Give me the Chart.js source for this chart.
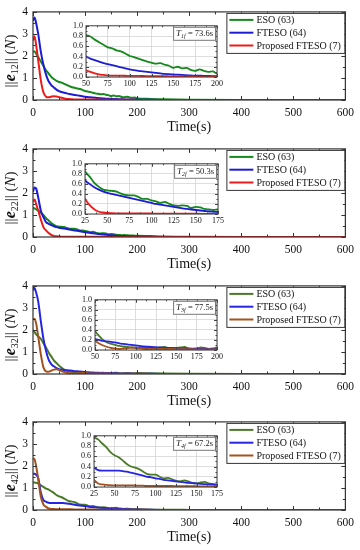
<!DOCTYPE html>
<html lang="en">
<head>
<meta charset="UTF-8">
<title>Observer error norms</title>
<script src="https://cdn.jsdelivr.net/npm/chart.js"></script>
<style>
  body { margin: 0; background: #fff; }
  #wrap { position: relative; width: 360px; height: 550px; }
  .panel { position: absolute; left: 0; width: 360px; height: 137px; }
  .panel canvas { position: absolute; }
</style>
</head>
<body>
<div id="wrap"></div>
<script>
// sample times (s), shared by every curve
const time = [0, 3, 6, 10, 15, 20, 25, 30, 35, 40, 45, 50, 55, 60, 65, 70, 75, 80, 85, 90, 95, 100,
  105, 110, 115, 120, 125, 130, 135, 140, 145, 150, 155, 160, 165, 170, 175, 180, 185, 190, 195, 200,
  225, 250, 300, 400, 500, 600];

const seriesNames = ['ESO (63)', 'FTESO (64)', 'Proposed FTESO (7)'];

// ||e12||
const eso1 = [2.2, 2.2, 2.1, 1.95, 1.75, 1.55, 1.35, 1.2, 1.05, 0.95, 0.87, 0.82,
  0.79, 0.73, 0.68, 0.63, 0.58, 0.56, 0.52, 0.5, 0.46, 0.41,
  0.39, 0.36, 0.33, 0.3, 0.28, 0.26, 0.27, 0.24, 0.22, 0.18,
  0.2, 0.17, 0.18, 0.14, 0.12, 0.15, 0.12, 0.1, 0.11, 0.07,
  0.05, 0.03, 0.01, 0, 0, 0];
const fteso1 = [3.6, 3.75, 3.5, 3.0, 2.2, 1.6, 1.15, 0.85, 0.68, 0.57, 0.47, 0.4,
  0.36, 0.33, 0.3, 0.27, 0.25, 0.23, 0.21, 0.19, 0.17, 0.15,
  0.135, 0.12, 0.11, 0.1, 0.09, 0.08, 0.07, 0.06, 0.055, 0.05,
  0.045, 0.04, 0.035, 0.03, 0.028, 0.025, 0.022, 0.02, 0.018, 0.016,
  0.01, 0.005, 0, 0, 0, 0];
const prop1 = [2.7, 2.9, 2.5, 1.8, 0.9, 0.35, 0.15, 0.12, 0.15, 0.17, 0.16, 0.13,
  0.1, 0.07, 0.05, 0.04, 0.03, 0.028, 0.026, 0.025, 0.024, 0.023,
  0.022, 0.021, 0.02, 0.019, 0.018, 0.017, 0.016, 0.015, 0.014, 0.013,
  0.012, 0.011, 0.01, 0.01, 0.009, 0.008, 0.008, 0.007, 0.006, 0.005,
  0.003, 0.002, 0, 0, 0, 0];

// ||e22||
const eso2 = [1.3, 1.3, 1.25, 1.2, 1.1, 1.0, 0.85, 0.75, 0.63, 0.55, 0.49, 0.47,
  0.46, 0.45, 0.41, 0.38, 0.37, 0.37, 0.34, 0.3, 0.3, 0.27,
  0.25, 0.22, 0.24, 0.2, 0.17, 0.16, 0.17, 0.16, 0.12, 0.14,
  0.13, 0.1, 0.09, 0.08, 0.09, 0.08, 0.07, 0.07, 0.06, 0.06,
  0.04, 0.02, 0.01, 0, 0, 0];
const fteso2 = [2.05, 2.25, 2.2, 1.8, 1.2, 0.9, 0.68, 0.6, 0.54, 0.49, 0.45, 0.42,
  0.4, 0.38, 0.36, 0.34, 0.32, 0.3, 0.28, 0.26, 0.24, 0.22,
  0.2, 0.185, 0.17, 0.155, 0.14, 0.125, 0.11, 0.1, 0.09, 0.08,
  0.07, 0.06, 0.05, 0.045, 0.04, 0.035, 0.03, 0.025, 0.02, 0.018,
  0.01, 0.005, 0, 0, 0, 0];
const prop2 = [1.6, 1.7, 1.5, 1.2, 0.8, 0.45, 0.3, 0.18, 0.1, 0.05, 0.03, 0.02,
  0.015, 0.012, 0.01, 0.01, 0.01, 0.01, 0.01, 0.01, 0.01, 0.01,
  0.008, 0.008, 0.008, 0.007, 0.007, 0.006, 0.006, 0.005, 0.005, 0.005,
  0.004, 0.004, 0.004, 0.003, 0.003, 0.003, 0.002, 0.002, 0.002, 0.002,
  0, 0, 0, 0, 0, 0];

// ||e32||
const eso3 = [2.0, 1.9, 1.8, 1.7, 1.6, 1.4, 1.2, 0.98, 0.8, 0.62, 0.5, 0.38,
  0.28, 0.2, 0.15, 0.12, 0.1, 0.08, 0.07, 0.06, 0.05, 0.045,
  0.04, 0.04, 0.05, 0.04, 0.04, 0.05, 0.06, 0.04, 0.03, 0.04,
  0.05, 0.06, 0.03, 0.02, 0.03, 0.05, 0.04, 0.02, 0.03, 0.05,
  0.03, 0.02, 0.01, 0, 0, 0];
const fteso3 = [3.8, 3.9, 3.7, 3.3, 2.4, 1.6, 1.05, 0.65, 0.45, 0.35, 0.27, 0.22,
  0.2, 0.18, 0.17, 0.16, 0.15, 0.13, 0.12, 0.11, 0.1, 0.09,
  0.08, 0.07, 0.065, 0.06, 0.055, 0.05, 0.047, 0.044, 0.04, 0.037,
  0.034, 0.031, 0.028, 0.026, 0.024, 0.022, 0.02, 0.018, 0.017, 0.016,
  0.01, 0.005, 0, 0, 0, 0];
const prop3 = [2.5, 2.5, 2.3, 1.7, 0.9, 0.3, 0.12, 0.1, 0.15, 0.2, 0.21, 0.18,
  0.13, 0.09, 0.06, 0.04, 0.03, 0.02, 0.03, 0.04, 0.05, 0.04,
  0.03, 0.02, 0.02, 0.02, 0.02, 0.02, 0.02, 0.02, 0.02, 0.015,
  0.015, 0.015, 0.015, 0.015, 0.01, 0.01, 0.01, 0.01, 0.01, 0.01,
  0.005, 0, 0, 0, 0, 0];

// ||e42||
const eso4 = [1.25, 1.25, 1.23, 1.2, 1.12, 1.05, 0.97, 0.93, 0.85, 0.78, 0.68, 0.62,
  0.58, 0.52, 0.45, 0.4, 0.38, 0.35, 0.3, 0.25, 0.24, 0.24,
  0.2, 0.17, 0.18, 0.15, 0.12, 0.11, 0.13, 0.11, 0.08, 0.07,
  0.09, 0.1, 0.07, 0.06, 0.05, 0.06, 0.05, 0.04, 0.035, 0.03,
  0.02, 0.01, 0.005, 0, 0, 0];
const fteso4 = [1.65, 1.65, 1.6, 1.45, 0.8, 0.45, 0.38, 0.33, 0.32, 0.32, 0.32, 0.32,
  0.32, 0.31, 0.3, 0.28, 0.26, 0.24, 0.22, 0.2, 0.19, 0.17,
  0.16, 0.14, 0.13, 0.12, 0.11, 0.1, 0.09, 0.08, 0.075, 0.07,
  0.06, 0.055, 0.05, 0.045, 0.04, 0.035, 0.03, 0.028, 0.025, 0.02,
  0.01, 0.005, 0, 0, 0, 0];
const prop4 = [2.35, 2.3, 2.0, 1.4, 0.6, 0.25, 0.14, 0.07, 0.05, 0.04, 0.035, 0.03,
  0.03, 0.03, 0.03, 0.03, 0.03, 0.025, 0.025, 0.02, 0.02, 0.02,
  0.02, 0.02, 0.02, 0.02, 0.015, 0.015, 0.015, 0.015, 0.015, 0.015,
  0.01, 0.01, 0.01, 0.01, 0.01, 0.01, 0.01, 0.01, 0.01, 0.01,
  0.005, 0, 0, 0, 0, 0];

// settling-time annotations
const settleLabels = [['1f', '73.6s'], ['2f', '50.3s'], ['3f', '77.5s'], ['4f', '67.2s']];
const insetRanges = [[50, 200], [25, 175], [50, 200], [25, 175]];

const SERIF = '"Liberation Serif", "DejaVu Serif", serif';
const GREEN = '#15891b', BLUE = '#1c1cd4', RED = '#ec1b1b';
const OLIVE = '#4a7a28', BLUE2 = '#2626e2', BROWN = '#a3521f';

const panels = [
  { sub: '12', top: 0,   vals: [eso1, fteso1, prop1], colors: [GREEN, BLUE, RED],    box: { l: 86, r: 217, t: 25, b: 77 } },
  { sub: '22', top: 137, vals: [eso2, fteso2, prop2], colors: [GREEN, BLUE, RED],    box: { l: 85, r: 218, t: 26, b: 77 } },
  { sub: '32', top: 274, vals: [eso3, fteso3, prop3], colors: [OLIVE, BLUE2, BROWN], box: { l: 95, r: 217, t: 25, b: 76 } },
  { sub: '42', top: 410, vals: [eso4, fteso4, prop4], colors: [OLIVE, BLUE2, BROWN], box: { l: 94, r: 217, t: 25, b: 77 } }
];

function points(vals) {
  return time.map((t, i) => ({ x: t, y: vals[i] }));
}

function makeDatasets(p, width) {
  return seriesNames.map((name, i) => ({
    label: name,
    data: points(p.vals[i]),
    borderColor: p.colors[i],
    borderWidth: width,
    pointRadius: 0,
    fill: false,
    cubicInterpolationMode: 'monotone',
    order: 2 - i
  }));
}

// frame box with inward major/minor ticks on all four sides
const framePlugin = {
  id: 'frame',
  beforeDraw(chart, args, o) {
    if (!o.fill) return;
    const a = chart.chartArea, ctx = chart.ctx;
    ctx.save();
    ctx.fillStyle = o.fill;
    ctx.fillRect(a.left, a.top, a.right - a.left, a.bottom - a.top);
    ctx.restore();
  },
  afterDatasetsDraw(chart, args, o) {
    const { ctx, chartArea: a, scales: { x, y } } = chart;
    ctx.save();
    ctx.strokeStyle = o.color;
    ctx.lineWidth = 1;
    ctx.beginPath();
    for (let i = 0; ; i++) {
      const v = x.min + i * o.xStep / 2;
      if (v > x.max + 1e-9) break;
      const px = Math.round(x.getPixelForValue(v)) + 0.5;
      const len = i % 2 ? o.minor : o.major;
      ctx.moveTo(px, a.bottom); ctx.lineTo(px, a.bottom - len);
      ctx.moveTo(px, a.top); ctx.lineTo(px, a.top + len);
    }
    for (let i = 0; ; i++) {
      const v = y.min + i * o.yStep / 2;
      if (v > y.max + 1e-9) break;
      const py = Math.round(y.getPixelForValue(v)) + 0.5;
      const len = i % 2 ? o.minor : o.major;
      ctx.moveTo(a.left, py); ctx.lineTo(a.left + len, py);
      ctx.moveTo(a.right, py); ctx.lineTo(a.right - len, py);
    }
    ctx.stroke();
    ctx.lineWidth = o.width;
    ctx.strokeRect(a.left, a.top, a.right - a.left, a.bottom - a.top);
    ctx.restore();
  }
};

// boxed legend in the top right corner of the main plot
const boxLegend = {
  id: 'boxLegend',
  afterDraw(chart, args, o) {
    if (!o.show) return;
    const { ctx, chartArea: a } = chart;
    const w = 118, h = 40, left = a.right - w - 1, top = a.top + 1;
    ctx.save();
    ctx.fillStyle = '#fff';
    ctx.fillRect(left, top, w, h);
    ctx.strokeStyle = '#333';
    ctx.lineWidth = 1;
    ctx.strokeRect(left + 0.5, top + 0.5, w, h);
    ctx.font = '10px ' + SERIF;
    ctx.textBaseline = 'middle';
    chart.data.datasets.forEach((ds, i) => {
      const yy = top + 7 + i * 12.8;
      ctx.strokeStyle = ds.borderColor;
      ctx.lineWidth = 2;
      ctx.beginPath();
      ctx.moveTo(left + 3, yy); ctx.lineTo(left + 27, yy);
      ctx.stroke();
      ctx.fillStyle = '#111';
      ctx.fillText(ds.label, left + 30, yy + 0.5);
    });
    ctx.restore();
  }
};

// y axis title ||e_ij|| (N), drawn rotated
const yTitle = {
  id: 'yTitle',
  afterDraw(chart, args, o) {
    if (!o.sub) return;
    const { ctx, chartArea: a } = chart;
    const parts = [
      { t: '||', f: '15px ' + SERIF, dy: 0 },
      { t: 'e', f: 'bold italic 16px ' + SERIF, dy: 0 },
      { t: o.sub, f: '10px ' + SERIF, dy: 4 },
      { t: '|| (', f: '15px ' + SERIF, dy: 0 },
      { t: 'N', f: 'italic 15px ' + SERIF, dy: 0 },
      { t: ')', f: '15px ' + SERIF, dy: 0 }
    ];
    let total = 0;
    parts.forEach(p => { ctx.font = p.f; p.w = ctx.measureText(p.t).width; total += p.w; });
    ctx.save();
    ctx.translate(11, (a.top + a.bottom) / 2 + 5);
    ctx.rotate(-Math.PI / 2);
    ctx.fillStyle = '#111';
    ctx.textBaseline = 'middle';
    let xx = -total / 2;
    parts.forEach(p => { ctx.font = p.f; ctx.fillText(p.t, xx, p.dy); xx += p.w; });
    ctx.restore();
  }
};

// settling time tag inside the inset
const settleTag = {
  id: 'settleTag',
  afterDraw(chart, args, o) {
    if (!o.sub) return;
    const { ctx, chartArea: a } = chart;
    const parts = [
      { t: 'T', f: 'italic 9px ' + SERIF, dy: 0 },
      { t: o.sub, f: 'italic 6px ' + SERIF, dy: 2.5 },
      { t: ' = ' + o.val, f: '8.5px ' + SERIF, dy: 0 }
    ];
    let total = 0;
    parts.forEach(p => { ctx.font = p.f; p.w = ctx.measureText(p.t).width; total += p.w; });
    const w = total + 6, h = 14, left = a.right - w - 1, top = a.top + 1;
    ctx.save();
    ctx.fillStyle = '#fff';
    ctx.fillRect(left, top, w, h);
    ctx.strokeStyle = '#777';
    ctx.lineWidth = 1;
    ctx.strokeRect(left + 0.5, top + 0.5, w - 1, h - 1);
    ctx.fillStyle = '#222';
    ctx.textBaseline = 'middle';
    let xx = left + 3;
    parts.forEach(p => { ctx.font = p.f; ctx.fillText(p.t, xx, top + h / 2 + p.dy); xx += p.w; });
    ctx.restore();
  }
};

const plugins = [framePlugin, boxLegend, yTitle, settleTag];
const wrap = document.getElementById('wrap');

panels.forEach((p, k) => {
  const div = document.createElement('div');
  div.className = 'panel';
  div.style.top = p.top + 'px';
  wrap.appendChild(div);

  const main = document.createElement('canvas');
  main.width = 360; main.height = 137;
  main.style.left = '0px'; main.style.top = '0px';
  div.appendChild(main);

  new Chart(main, {
    type: 'line',
    data: { datasets: makeDatasets(p, 2) },
    plugins: plugins,
    options: {
      responsive: false,
      animation: false,
      devicePixelRatio: 1,
      layout: { padding: { top: 11, right: 11, left: 0, bottom: 0 } },
      plugins: {
        legend: { display: false },
        tooltip: { enabled: false },
        frame: { color: '#333', width: 1.2, xStep: 100, yStep: 1, major: 4, minor: 2.5 },
        boxLegend: { show: true },
        yTitle: { sub: p.sub },
        settleTag: {}
      },
      scales: {
        x: {
          type: 'linear', min: 0, max: 600,
          grid: { display: false, drawTicks: false },
          border: { display: false },
          ticks: { stepSize: 100, autoSkip: false, padding: 6, color: '#111', maxRotation: 0, font: { family: SERIF, size: 11.5 } },
          title: { display: true, text: 'Time(s)', color: '#111', padding: { top: 0, bottom: 1 }, font: { family: SERIF, size: 14 } },
          afterFit(s) { s.height = 37; }
        },
        y: {
          min: 0, max: 4,
          grid: { display: false, drawTicks: false },
          border: { display: false },
          ticks: { stepSize: 1, autoSkip: false, padding: 5, color: '#111', font: { family: SERIF, size: 11.5 } },
          afterFit(s) { s.width = 33; }
        }
      }
    }
  });

  // zoomed inset
  const b = p.box;
  const inset = document.createElement('canvas');
  inset.width = b.r - b.l + 34;
  inset.height = b.b - b.t + 23;
  inset.style.left = (b.l - 26) + 'px';
  inset.style.top = (b.t - 7) + 'px';
  div.appendChild(inset);

  new Chart(inset, {
    type: 'line',
    data: { datasets: makeDatasets(p, 1.8) },
    plugins: plugins,
    options: {
      responsive: false,
      animation: false,
      devicePixelRatio: 1,
      layout: { padding: { top: 7, right: 8, left: 0, bottom: 0 } },
      plugins: {
        legend: { display: false },
        tooltip: { enabled: false },
        frame: { color: '#444', width: 1, xStep: 25, yStep: 0.2, major: 3, minor: 1.5, fill: '#fff' },
        boxLegend: { show: false },
        yTitle: {},
        settleTag: { sub: settleLabels[k][0], val: settleLabels[k][1] }
      },
      scales: {
        x: {
          type: 'linear', min: insetRanges[k][0], max: insetRanges[k][1],
          grid: { color: '#d6d6d6', lineWidth: 0.8, drawTicks: false },
          border: { display: false },
          ticks: { stepSize: 25, autoSkip: false, padding: 2, color: '#111', maxRotation: 0, font: { family: SERIF, size: 8 } },
          afterFit(s) { s.height = 16; }
        },
        y: {
          min: 0, max: 1,
          grid: { color: '#d6d6d6', lineWidth: 0.8, drawTicks: false },
          border: { display: false },
          ticks: { stepSize: 0.2, autoSkip: false, padding: 3, color: '#111', font: { family: SERIF, size: 8 }, callback: v => v.toFixed(1) },
          afterFit(s) { s.width = 26; }
        }
      }
    }
  });
});
</script>
</body>
</html>
